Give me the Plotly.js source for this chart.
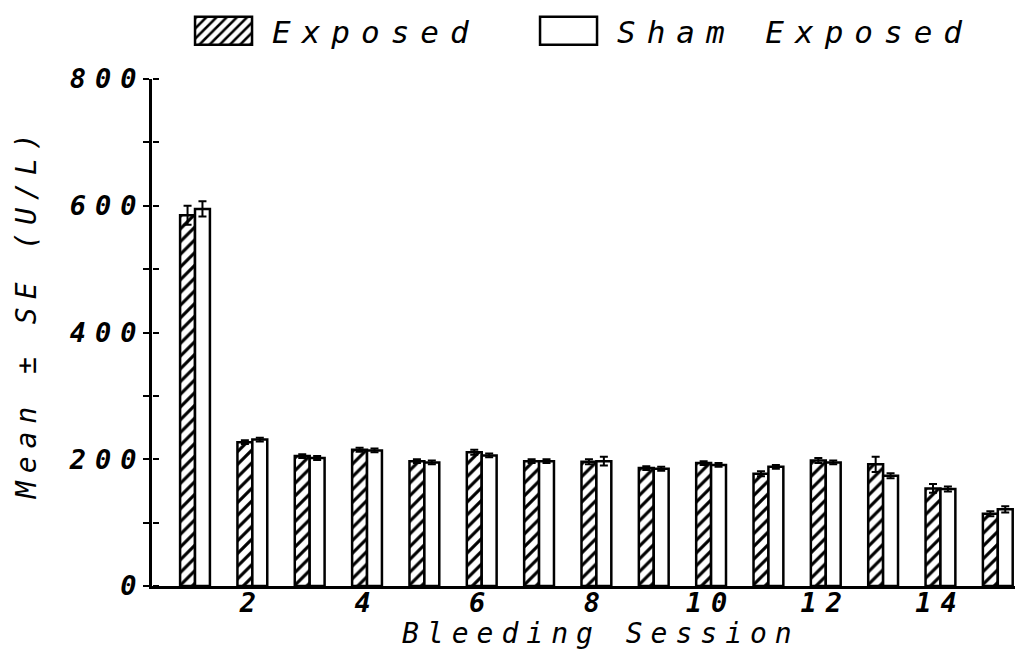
<!DOCTYPE html>
<html><head><meta charset="utf-8">
<script src="https://cdn.plot.ly/plotly-3.0.1.min.js"></script>
<style>
html,body{margin:0;padding:0;background:#fff}
#chart{width:1017px;height:671px}
.legendtext{letter-spacing:11px}
.xtick text,.ytick text{letter-spacing:9px}
.annotation-text{letter-spacing:8px}
.legend .legendpoints path{d:path('M28.5,14H-28.5V-14H28.5Z')}
</style>
</head><body><div id="chart"></div>
<script>
const sessions = [1,2,3,4,5,6,7,8,9,10,11,12,13,14,15];
const exposedMean = [585,227,205,215,197,211,197,196,186,194,177,198,192,154,114];
const exposedSE   = [15,3,3,3,3,4,3,4,3,3,4,4,12,7,4];
const shamMean    = [595,231,202,214,195,206,197,197,185,191,188,195,174,153,121];
const shamSE      = [12,3,3,3,3,3,3,7,3,3,3,3,4,4,5];
const xTickVals = [2,4,6,8,10,12,14];
const yTickVals = [0,100,200,300,400,500,600,700,800];
const yTickText = ['0','','200','','400','','600','','800'];
const xTitle = 'Bleeding Session';
const yTitle = 'Mean ± SE (U/L)';

const FONT = 'DejaVu Sans Mono, monospace';
const traces = [
  {type:'bar', name:'Exposed', x:sessions, y:exposedMean, legendwidth:243,
   error_y:{type:'data', array:exposedSE, visible:true, color:'#000', thickness:2, width:4},
   marker:{color:'#fff', line:{color:'#000', width:2.5},
     pattern:{shape:'/', fgcolor:'#000', bgcolor:'#fff', size:9, solidity:0.35}}},
  {type:'bar', name:'Sham Exposed', x:sessions, y:shamMean,
   error_y:{type:'data', array:shamSE, visible:true, color:'#000', thickness:2, width:4},
   marker:{color:'#fff', line:{color:'#000', width:2.5}}},
  {type:'scatter', mode:'markers', x:[1], y:[0], yaxis:'y2', showlegend:false,
   hoverinfo:'skip', marker:{opacity:0}}
];
const layout = {
  width:1017, height:671,
  margin:{l:152, r:2, t:79, b:85},
  paper_bgcolor:'#fff', plot_bgcolor:'#fff',
  barmode:'group', bargap:0.48, bargroupgap:0,
  font:{family:FONT, color:'#000', style:'italic'},
  showlegend:true,
  legend:{orientation:'h', x:0.0267, xanchor:'left', y:1.0947, yanchor:'middle',
    font:{family:FONT, size:31, style:'italic', color:'#000'},
    itemwidth:87, traceorder:'normal'},
  xaxis:{range:[0.25,15.3], tickmode:'array', tickvals:xTickVals, ticks:'',
    showline:true, linecolor:'#000', linewidth:3, showgrid:false, zeroline:false,
    ticklabelstandoff:-9,
    tickfont:{family:FONT, size:27, style:'italic', weight:'bold'}},
  yaxis:{range:[0,800], tickmode:'array', tickvals:yTickVals, ticktext:yTickText,
    ticks:'outside', ticklen:6, tickwidth:2, tickcolor:'#000',
    showline:true, linecolor:'#000', linewidth:3, showgrid:false, zeroline:false,
    ticklabelstandoff:-8,
    tickfont:{family:FONT, size:27, style:'italic', weight:'bold'}},
  yaxis2:{overlaying:'y', anchor:'free', position:0, side:'right', range:[0,800],
    tickmode:'array', tickvals:yTickVals,
    ticks:'outside', ticklen:6, tickwidth:2, tickcolor:'#000', showticklabels:false,
    showline:false, showgrid:false, zeroline:false},
  annotations:[
    {text:yTitle, textangle:-90, xref:'paper', yref:'paper',
     x:-0.146, y:0.54, xanchor:'center', yanchor:'middle', showarrow:false,
     font:{family:FONT, size:28, style:'italic', color:'#000'}},
    {text:xTitle, xref:'paper', yref:'paper',
     x:0.52, y:-0.094, xanchor:'center', yanchor:'middle', showarrow:false,
     font:{family:FONT, size:28, style:'italic', color:'#000'}}
  ]
};
Plotly.newPlot('chart', traces, layout, {displayModeBar:false, staticPlot:true});
</script></body></html>
